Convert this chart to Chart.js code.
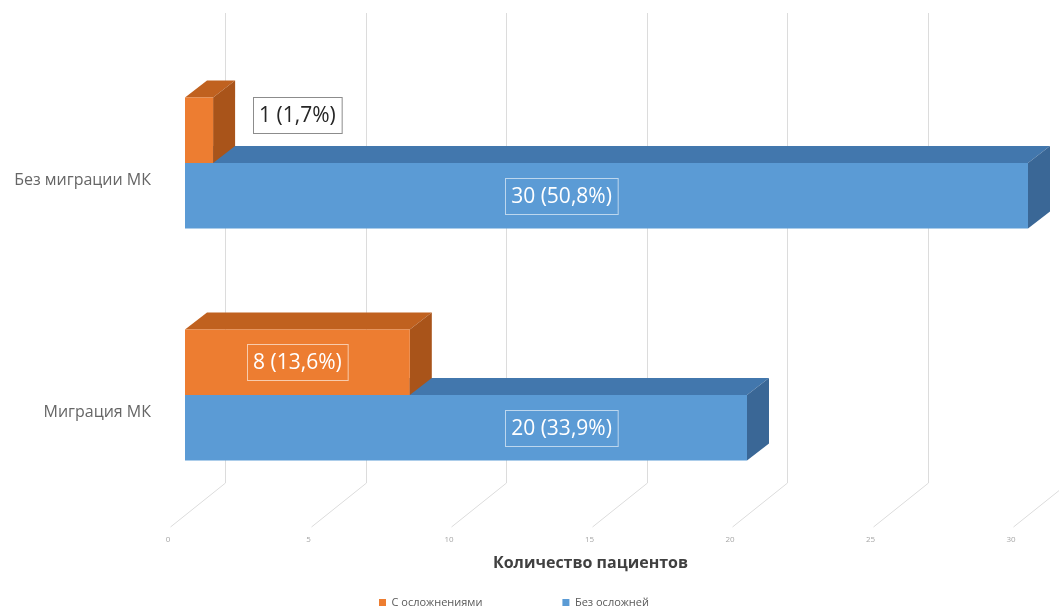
<!DOCTYPE html>
<html>
<head>
<meta charset="utf-8">
<script src="https://cdn.jsdelivr.net/npm/chart.js@4"></script>
<style>
  html, body { margin: 0; background: #fff; }
  #wrap { width: 1059px; height: 611px; }
</style>
</head>
<body>
<div id="wrap"><canvas id="myChart"></canvas></div>
<script>
const categories = ['Без миграции МК', 'Миграция МК'];
const seriesNames = ['С осложнениями', 'Без осложней'];
const withComplications = [1, 8];
const withoutComplications = [30, 20];
const xTicks = [0, 5, 10, 15, 20, 25, 30];
const axisTitle = 'Количество пациентов';

const total = withComplications.concat(withoutComplications).reduce((a, b) => a + b, 0);

// front / top / side colours per series
const colors = [
    ['#ED7D31', '#C0611F', '#A9541A'],
    ['#5B9BD5', '#4277AD', '#3A6796']
];
const depth = { dx: 22, dy: -17 };
// where the value boxes sit along the axis, per series
const labelAt = [4, 13.4];

function poly(ctx, pts) {
    ctx.beginPath();
    ctx.moveTo(pts[0][0], pts[0][1]);
    for (let k = 1; k < pts.length; k++) ctx.lineTo(pts[k][0], pts[k][1]);
    ctx.closePath();
    ctx.fill();
}

const bars3d = {
    id: 'bars3d',
    afterLayout(chart) {
        // the legend overlaps the floor strip, so give the tick labels room to show
        const x = chart.scales.x;
        x.bottom = x.top + 46;
    },
    beforeDatasetsDraw(chart) {
        const { ctx, chartArea, scales: { x } } = chart;
        ctx.save();
        // back wall + floor lines
        ctx.strokeStyle = '#dcdcdc';
        ctx.lineWidth = 1;
        xTicks.forEach(v => {
            const px = Math.round(x.getPixelForValue(v)) + 0.5;
            ctx.beginPath();
            ctx.moveTo(px + 40, chartArea.top - 34);
            ctx.lineTo(px + 40, chartArea.bottom - 28);
            ctx.lineTo(px - 15, chartArea.bottom + 16);
            ctx.stroke();
        });
        // top and side faces, back series first
        for (let i = chart.data.datasets.length - 1; i >= 0; i--) {
            chart.getDatasetMeta(i).data.forEach(bar => {
                const t = bar.y - bar.height / 2, b = bar.y + bar.height / 2;
                const xe = bar.x, base = bar.base;
                ctx.fillStyle = colors[i][1];
                poly(ctx, [[base, t], [xe, t], [xe + depth.dx, t + depth.dy], [base + depth.dx, t + depth.dy]]);
                ctx.fillStyle = colors[i][2];
                poly(ctx, [[xe, t], [xe + depth.dx, t + depth.dy], [xe + depth.dx, b + depth.dy], [xe, b]]);
            });
        }
        ctx.restore();
    },
    afterDatasetsDraw(chart) {
        const { ctx, scales: { x } } = chart;
        ctx.save();
        ctx.font = '21px "Open Sans"';
        ctx.textAlign = 'center';
        ctx.textBaseline = 'middle';
        chart.data.datasets.forEach((ds, i) => {
            chart.getDatasetMeta(i).data.forEach((bar, j) => {
                const v = ds.data[j];
                const text = v + ' (' + (v / total * 100).toFixed(1).replace('.', ',') + '%)';
                const w = ctx.measureText(text).width + 12, h = 36;
                const cx = x.getPixelForValue(labelAt[i]);
                const inside = bar.x - bar.base > w + 20;
                const cy = inside ? bar.y : bar.y - bar.height / 2 + h / 2;
                const bx = Math.round(cx - w / 2) + 0.5, by = Math.round(cy - h / 2) + 0.5;
                if (inside) {
                    ctx.strokeStyle = 'rgba(255,255,255,0.6)';
                } else {
                    ctx.fillStyle = '#fff';
                    ctx.fillRect(bx, by, w, h);
                    ctx.strokeStyle = '#8c8c8c';
                }
                ctx.lineWidth = 1;
                ctx.strokeRect(bx, by, w, h);
                ctx.fillStyle = inside ? '#fff' : '#262626';
                ctx.fillText(text, cx, cy + 1);
            });
        });
        ctx.restore();
    },
    afterDraw(chart) {
        const { ctx, chartArea, scales: { x } } = chart;
        ctx.save();
        ctx.font = 'bold 16px "Open Sans"';
        ctx.fillStyle = '#404040';
        ctx.textAlign = 'center';
        ctx.textBaseline = 'middle';
        ctx.fillText(axisTitle, x.getPixelForValue(15) - 16, chartArea.bottom + 52);
        ctx.restore();
    }
};

const ctx = document.getElementById('myChart').getContext('2d');

const data = {
    labels: categories,
    datasets: [{
        label: seriesNames[0],
        data: withComplications,
        backgroundColor: colors[0][0],
        borderWidth: 0
    }, {
        label: seriesNames[1],
        data: withoutComplications,
        backgroundColor: colors[1][0],
        borderWidth: 0
    }]
};

const config = {
    type: 'bar',
    data: data,
    options: {
        indexAxis: 'y',
        responsive: true,
        maintainAspectRatio: false,
        animation: false,
        events: [],
        datasets: {
            bar: { categoryPercentage: 0.565, barPercentage: 1 }
        },
        layout: { padding: { top: 47, right: 31, bottom: -7, left: 0 } },
        plugins: {
            legend: {
                position: 'bottom',
                labels: {
                    boxWidth: 7,
                    boxHeight: 7,
                    padding: 80,
                    color: '#595959',
                    font: { size: 11, family: 'Open Sans' }
                }
            },
            tooltip: { enabled: false }
        },
        scales: {
            x: {
                min: 0,
                max: 30,
                afterBuildTicks: scale => { scale.ticks = xTicks.map(v => ({ value: v })); },
                afterFit: scale => { scale.height = 6; },
                grid: { display: false, drawTicks: false },
                border: { display: false },
                ticks: {
                    padding: 24,
                    labelOffset: -17,
                    color: '#a6a6a6',
                    font: { size: 8, family: 'Open Sans' }
                }
            },
            y: {
                afterFit: scale => { scale.width = 185; },
                grid: { display: false, drawTicks: false },
                border: { display: false },
                ticks: {
                    padding: 34,
                    labelOffset: 17,
                    color: '#666',
                    font: { size: 16, family: 'Open Sans' }
                }
            }
        }
    },
    plugins: [bars3d]
};

const myChart = new Chart(ctx, config);
</script>
</body>
</html>
